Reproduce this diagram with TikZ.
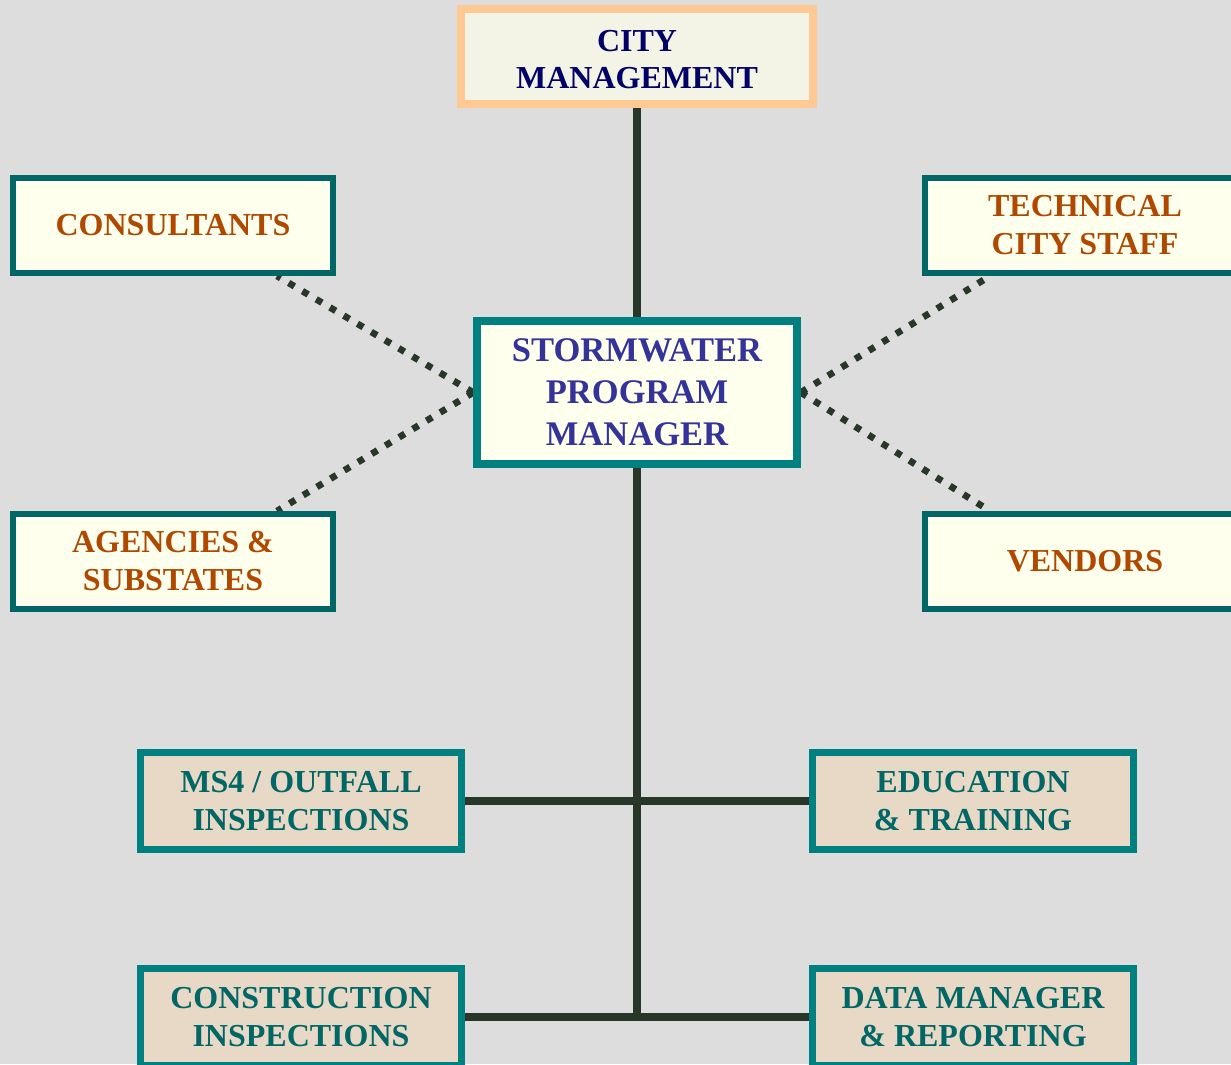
\documentclass[tikz,border=0pt]{standalone}
\usepackage{fontspec}
\setmainfont{Liberation Serif}
\usetikzlibrary{calc}
\pgfdeclarelayer{canvas}
\pgfdeclarelayer{links}
\pgfsetlayers{canvas,links,main}
\definecolor{bgc}{HTML}{DDDDDD}
\definecolor{linec}{HTML}{283828}
\definecolor{cityborder}{HTML}{FFC993}
\definecolor{cityfill}{HTML}{F3F3E6}
\definecolor{citytext}{HTML}{000066}
\definecolor{tealb}{HTML}{008080}
\definecolor{darkteal}{HTML}{006666}
\definecolor{creamfill}{HTML}{FFFFEE}
\definecolor{stormtext}{HTML}{333399}
\definecolor{sidetext}{HTML}{B04800}
\definecolor{tanfill}{HTML}{E8D8C6}
\tikzset{
  boxbase/.style={rectangle, inner sep=0pt, align=center},
  citybox/.style={boxbase, draw=cityborder, fill=cityfill, line width=6pt,
    minimum width=264pt, minimum height=71.25pt, text=citytext,
    font=\fontsize{24}{28}\selectfont\bfseries},
  stormbox/.style={boxbase, draw=tealb, fill=creamfill, line width=5.6pt,
    minimum width=240pt, minimum height=107.25pt, text=stormtext,
    font=\fontsize{25.9}{31.5}\selectfont\bfseries},
  sidebox/.style={boxbase, draw=darkteal, fill=creamfill, line width=4.5pt,
    minimum width=240pt, minimum height=71.25pt, text=sidetext,
    font=\fontsize{24}{28.5}\selectfont\bfseries},
  unitbox/.style={boxbase, draw=tealb, fill=tanfill, line width=5.6pt,
    minimum width=240.75pt, minimum height=72.75pt, text=darkteal,
    font=\fontsize{24}{28.5}\selectfont\bfseries},
  solidlink/.style={draw=linec, line width=6pt},
  dotlink/.style={draw=linec, line width=5pt, dash pattern=on 5pt off 7pt}
}
\begin{document}
\begin{tikzpicture}[x=0.75pt,y=-0.75pt]
\useasboundingbox (0,0) rectangle (1231,1064);
\clip (0,0) rectangle (1231,1064);
\begin{pgfonlayer}{canvas}
\fill[bgc] (0,0) rectangle (1231,1064);
\end{pgfonlayer}

% boxes
\node[citybox] (city) at (637,56.5) {\rule{0pt}{20pt}CITY\\MANAGEMENT};
\node[stormbox] (storm) at (637,392.5) {STORMWATER\\PROGRAM\\MANAGER};
\node[sidebox] (cons) at (173,225.5) {CONSULTANTS};
\node[sidebox] (tech) at (1085,225.5) {TECHNICAL\\CITY STAFF};
\node[sidebox] (agen) at (173,561.5) {AGENCIES \&\\SUBSTATES};
\node[sidebox] (vend) at (1085,561.5) {VENDORS};
\node[unitbox] (ms) at (301,801) {MS4 / OUTFALL\\INSPECTIONS};
\node[unitbox] (edu) at (973,801) {EDUCATION\\\& TRAINING};
\node[unitbox] (constr) at (301,1017) {CONSTRUCTION\\INSPECTIONS};
\node[unitbox] (data) at (973,1017) {DATA MANAGER\\\& REPORTING};

% dotted link ends
\coordinate (econs) at (277,276);
\coordinate (eagen) at (277,511);
\coordinate (etech) at (990,276);
\coordinate (evend) at (990,511);

% connectors
\begin{pgfonlayer}{links}
\draw[solidlink] (city.south) -- (storm.north);
\draw[solidlink] (storm.south) -- (storm.south |- constr.east);
\draw[solidlink] (ms.east) -- (edu.west);
\draw[solidlink] (constr.east) -- (data.west);
\draw[dotlink] (storm.west) -- (econs);
\draw[dotlink] (storm.west) -- (eagen);
\draw[dotlink] (storm.east) -- (etech);
\draw[dotlink] (storm.east) -- (evend);
\end{pgfonlayer}
\end{tikzpicture}
\end{document}
